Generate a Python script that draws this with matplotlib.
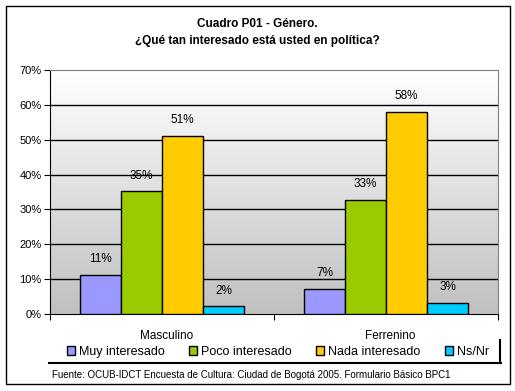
import numpy as np
import matplotlib
matplotlib.use("Agg")
import matplotlib.pyplot as plt
from matplotlib.lines import Line2D
from matplotlib.patches import Rectangle

plt.rcParams['font.family'] = ['Liberation Sans', 'DejaVu Sans']

# data
groups = ["Masculino", "Ferrenino"]
series = ["Muy interesado", "Poco interesado", "Nada interesado", "Ns/Nr"]
muy = [11.2, 7.2]
poco = [35.2, 32.7]
nada = [51.0, 57.9]
nsnr = [2.2, 3.1]
labels = [["11%", "7%"], ["35%", "33%"], ["51%", "58%"], ["2%", "3%"]]
colors = ["#9999FF", "#99CC00", "#FFCC00", "#00CCFF"]
yticks = [0, 10, 20, 30, 40, 50, 60, 70]

fig = plt.figure(figsize=(5.15, 3.91), dpi=100)
ax = fig.add_axes([50/515, 1-314/391, 448/515, 244/391])

# gradient background of plot area
grad = np.linspace(0, 1, 256).reshape(-1, 1)
ax.imshow(grad, extent=[0, 2, 0, 70], aspect='auto', origin='lower',
          cmap=matplotlib.colors.LinearSegmentedColormap.from_list('g', ['#C0C0C0', '#FFFFFF']),
          zorder=0)

w = 0.183
x = np.arange(len(groups)) + 0.5
for i, vals in enumerate([muy, poco, nada, nsnr]):
    pos = x + (i - 1.5) * w
    ax.bar(pos, vals, w, color=colors[i], edgecolor='black', linewidth=1, zorder=3, label=series[i])
    for p, v, t in zip(pos, vals, labels[i]):
        ax.text(p, v + 2.8, t, ha='center', va='bottom', fontsize=8.5, zorder=4)

ax.set_xlim(0, 2)
ax.set_ylim(0, 70)
ax.set_yticks(yticks)
ax.set_yticklabels([f"{t}%" for t in yticks], fontsize=8)
for t in yticks[1:-1]:
    ax.axhline(t, color='black', linewidth=1, zorder=1)
ax.set_xticks([0, 1, 2])
ax.set_xticklabels([])
ax.tick_params(axis='x', direction='out', length=4, color='black')
ax.tick_params(axis='y', direction='out', length=4, color='black', pad=2)
for g, xx in zip(groups, x):
    ax.text(xx + 0.02, -4.5, g, ha='center', va='top', fontsize=8.5)
ax.spines['top'].set_color('#808080')
ax.spines['right'].set_color('#808080')
ax.spines['left'].set_color('black')
ax.spines['bottom'].set_color('black')

fig.text(0.5, 1-24/391, "Cuadro P01 - Género.", ha='center', va='center', fontsize=8.5, fontweight='bold')
fig.text(0.5, 1-41/391, "¿Qué tan interesado está usted en política?", ha='center', va='center',
         fontsize=8.5, fontweight='bold')

leg = fig.legend(loc='lower left', bbox_to_anchor=(62/515, 1-363/391, 432/515, 22/391),
                 ncol=4, mode='expand', frameon=False, fontsize=9, handlelength=0.65,
                 handleheight=0.65, handletextpad=0.3, borderaxespad=0)
# legend shadow lines
fig.add_artist(Line2D([49/515, 501/515], [1-363/391, 1-363/391], color='black', linewidth=1.5,
                      transform=fig.transFigure))
fig.add_artist(Line2D([500/515, 500/515], [1-340/391, 1-363/391], color='black', linewidth=1.5,
                      transform=fig.transFigure))

fig.text(52/515, 1-375/391, "Fuente: OCUB-IDCT Encuesta de Cultura: Ciudad de Bogotá 2005. Formulario Básico BPC1",
         ha='left', va='center', fontsize=7)

fig.add_artist(Rectangle((5.5/515, 1-384/391), 504/515, 378/391, fill=False, edgecolor='black',
                         linewidth=1, transform=fig.transFigure))

fig.savefig("out.png", dpi=100)
